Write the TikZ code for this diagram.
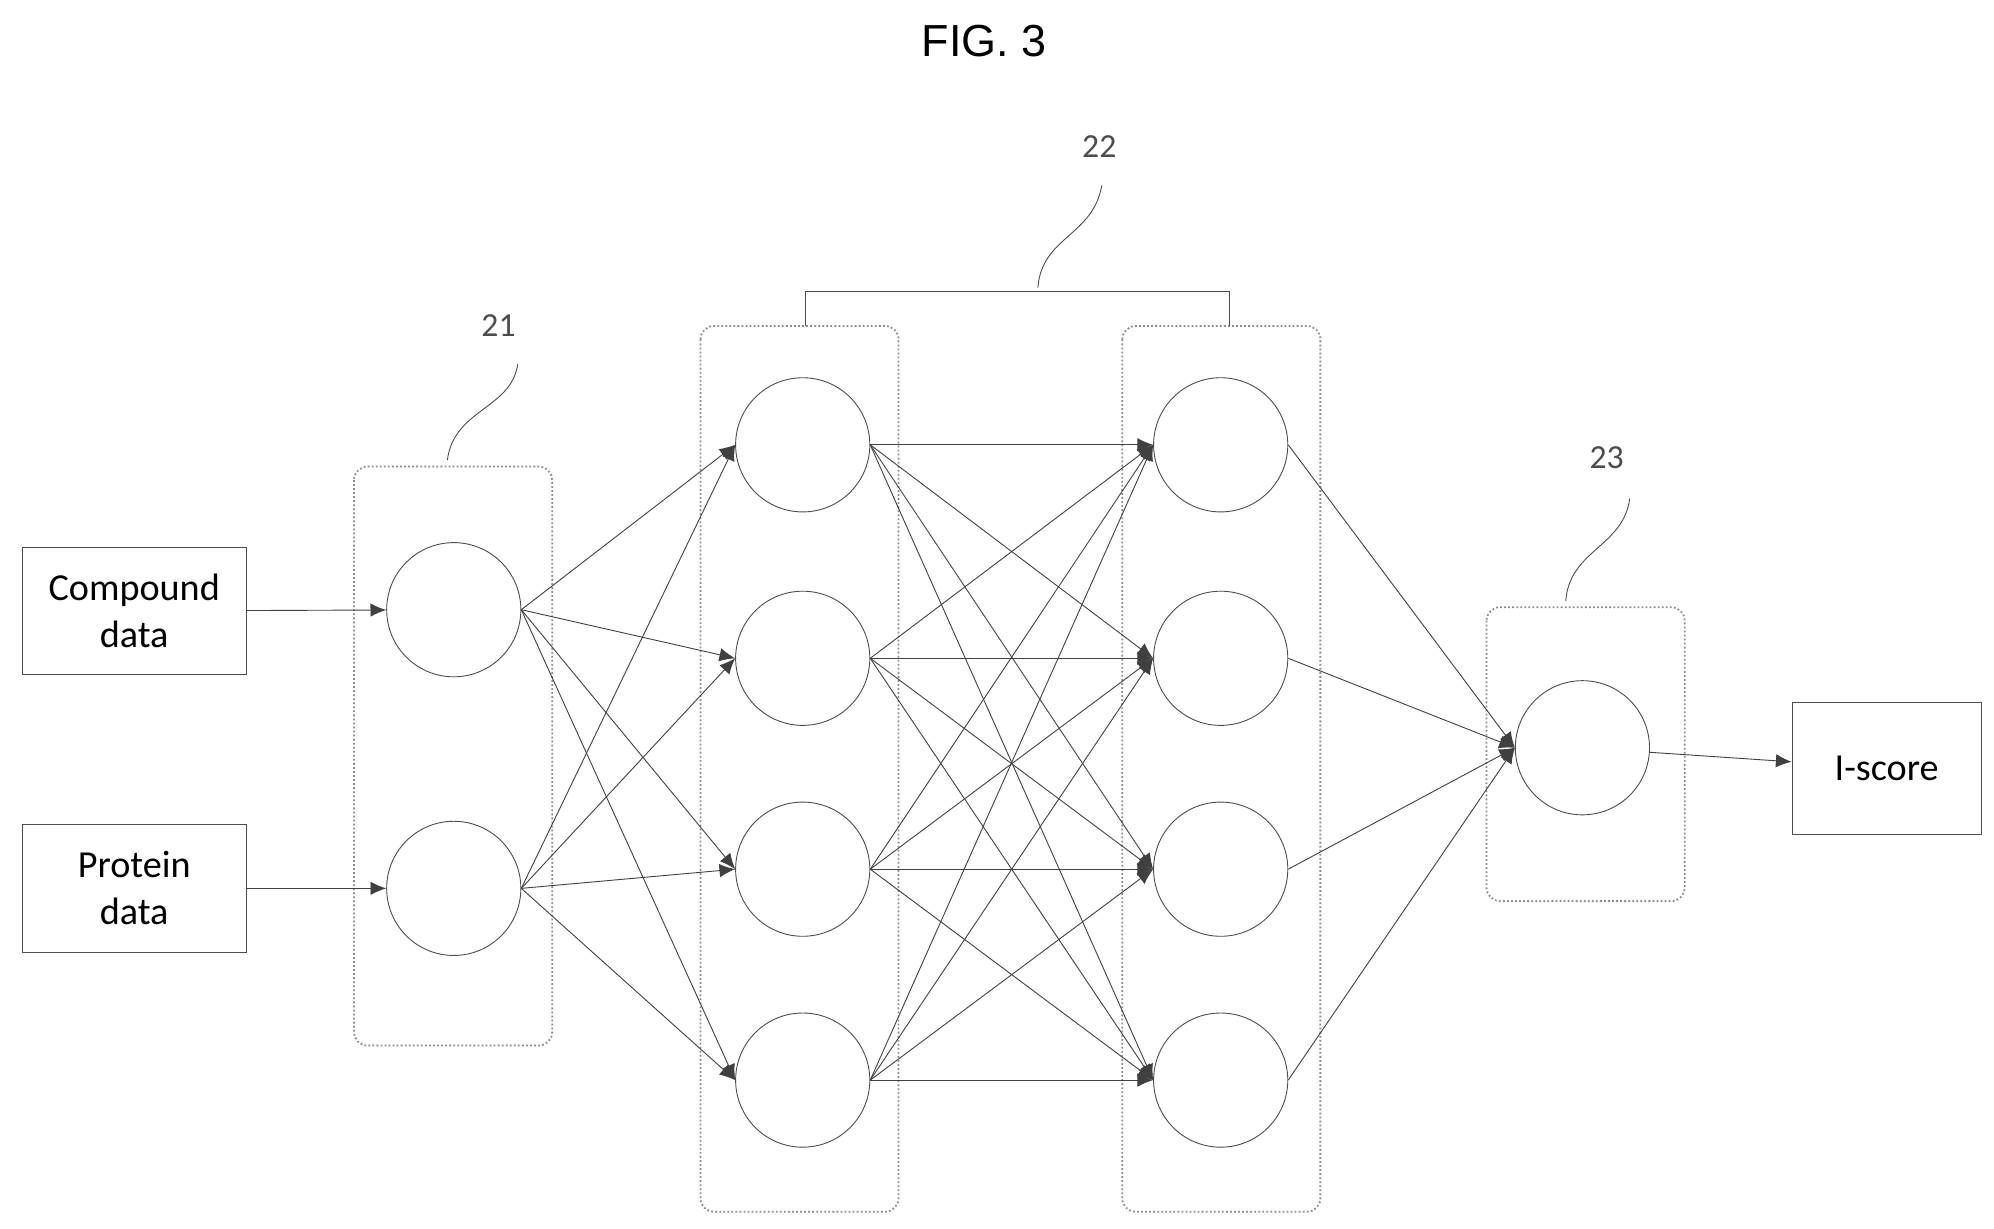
\documentclass[tikz,border=0pt]{standalone}
\usepackage{fontspec}
\setmainfont{Carlito}
\newfontfamily\figfont{Liberation Sans}
\usetikzlibrary{arrows.meta}
\tikzstyle{neuron} = [circle, draw=black!70, minimum size=2.1cm, inner sep=0pt]
\tikzstyle{databox} = [rectangle, draw=black!70, align=center, minimum width=3.5cm, minimum height=2cm, font=\fontsize{17}{21}\selectfont]
\tikzstyle{layerbox} = [draw=black!45, densely dotted, thick, rounded corners=6pt]
\tikzstyle{refnum} = [font=\fontsize{15}{18}\selectfont, text=black!70]
\tikzstyle{link} = [draw=black!75, -{Latex[length=7pt,width=6pt]}]
\begin{document}
\begin{tikzpicture}[x=0.02cm,y=-0.02cm]
\useasboundingbox (0,0) rectangle (1560,961);
\node[font=\figfont\fontsize{20}{24}\selectfont] (title) at (770,32) {FIG. 3};
% inputs and output
\node [databox] (cmp) at (105,478) {Compound\\data};
\node [databox] (prt) at (105,695) {Protein\\data};
\node [databox, minimum width=2.96cm, minimum height=2.06cm] (isc) at (1476,601) {I-score};
% layer boxes
\draw [layerbox] (277,365) rectangle (432,818);
\draw [layerbox] (548,255) rectangle (703,948);
\draw [layerbox] (878,255) rectangle (1033,948);
\draw [layerbox] (1163,475) rectangle (1318,705);
% neurons
\node [neuron] (in1) at (355,477) {};
\node [neuron] (in2) at (355,695) {};
\foreach \i/\y in {1/348,2/515,3/680,4/845} {
  \node [neuron] (ha\i) at (628,\y) {};
  \node [neuron] (hb\i) at (955,\y) {};
}
\node [neuron] (out) at (1238,585) {};
% connections
\draw [link] (cmp) -- (in1);
\draw [link] (prt) -- (in2);
\foreach \a in {1,2} \foreach \b in {1,2,3,4}
  \draw [link] (in\a.east) -- (ha\b.west);
\foreach \a in {1,2,3,4} \foreach \b in {1,2,3,4}
  \draw [link] (ha\a.east) -- (hb\b.west);
\foreach \a in {1,2,3,4}
  \draw [link] (hb\a.east) -- (out.west);
\draw [link] (out) -- (isc);
% reference numbers
\draw [black!70] (630,255) -- (630,228) -- (962,228) -- (962,255);
\node [refnum] (n21) at (390,255) {21};
\node [refnum] (n22) at (860,115) {22};
\node [refnum] (n23) at (1257,358) {23};
\draw [black!70] (405,285) .. controls (400,320) and (355,320) .. (350,360);
\draw [black!70] (862,145) .. controls (855,185) and (815,185) .. (812,225);
\draw [black!70] (1275,390) .. controls (1270,428) and (1228,430) .. (1225,470);
\end{tikzpicture}
\end{document}
